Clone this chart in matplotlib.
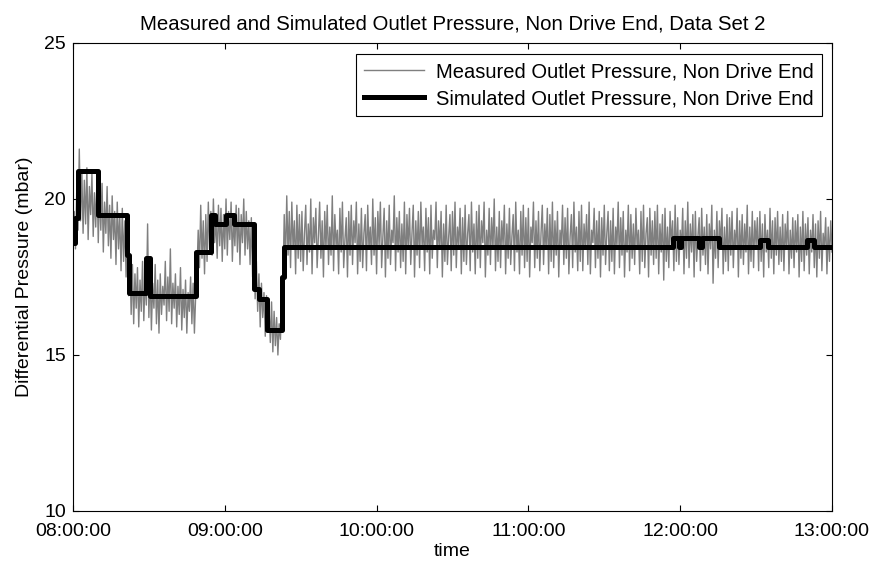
import numpy as np
import matplotlib
matplotlib.use('Agg')
import matplotlib.pyplot as plt

plt.rcParams['font.family'] = ['Liberation Sans', 'DejaVu Sans']

# measured outlet pressure, one reading every 30 s from 08:00 (mbar)
meas_vals = [
    18.1, 19.6, 18.4, 20.3, 19.0, 21.6, 19.3, 20.9, 18.9, 20.6, 19.2, 21.0, 18.7, 20.4, 19.5, 20.8, 18.8, 20.2, 19.1, 20.7,
    18.6, 20.3, 19.0, 20.5, 18.3, 19.9, 18.9, 20.4, 18.5, 19.8, 18.1, 20.1, 18.7, 19.6, 17.9, 19.9, 18.4, 19.5, 17.7, 19.7,
    18.0, 19.3, 17.5, 19.0, 16.9, 18.2, 16.3, 17.9, 16.0, 17.6, 16.5, 17.8, 15.9, 17.4, 16.4, 18.0, 16.1, 17.5, 16.6, 19.2,
    16.2, 17.7, 15.8, 17.3, 16.5, 17.9, 16.0, 17.4, 15.7, 17.6, 16.3, 17.2, 16.6, 18.0, 16.1, 17.5, 16.4, 18.4, 16.0, 17.3,
    16.5, 17.6, 15.9, 17.2, 16.3, 17.8, 15.8, 17.1, 16.2, 17.4, 15.7, 17.0, 16.4, 17.5, 16.0, 17.3, 15.7, 16.9, 17.6, 19.0,
    17.8, 19.8, 18.1, 19.3, 17.6, 19.5, 18.0, 19.9, 18.4, 19.6, 18.2, 20.0, 18.6, 19.4, 18.1, 19.8, 18.5, 19.7, 18.0, 19.5,
    18.4, 20.0, 18.2, 19.6, 18.7, 19.9, 18.0, 19.4, 18.5, 19.8, 18.3, 19.7, 17.9, 19.5, 18.6, 20.0, 18.2, 19.6, 18.4, 19.3,
    17.9, 19.4, 17.5, 18.8, 16.8, 18.0, 16.4, 17.6, 15.9, 17.3, 16.2, 17.0, 15.6, 16.9, 15.8, 16.5, 15.4, 16.7, 15.1, 16.4,
    15.3, 16.2, 15.0, 16.0, 15.5, 16.6, 17.2, 19.5, 17.9, 20.1, 18.2, 19.6, 17.8, 19.9, 18.4, 19.3, 17.6, 19.8, 18.1, 19.5,
    18.0, 19.6, 17.7, 18.9, 19.8, 17.9, 19.2, 18.3, 20.0, 17.6, 19.4, 18.6, 19.7, 17.8, 18.8, 19.9, 18.1, 19.3, 17.5, 19.6,
    18.4, 19.8, 17.9, 19.1, 18.2, 20.1, 17.7, 19.5, 18.5, 19.0, 17.6, 19.7, 18.3, 19.9, 17.8, 18.7, 19.4, 17.5, 19.6, 18.2,
    19.8, 17.9, 19.3, 18.6, 19.9, 17.6, 19.2, 18.0, 19.7, 17.8, 18.9, 19.5, 17.7, 19.8, 18.4, 19.1, 17.9, 20.0, 18.2, 19.4,
    17.6, 19.6, 18.5, 19.9, 17.8, 18.8, 19.7, 17.5, 19.3, 18.1, 19.8, 17.9, 19.0, 18.6, 20.1, 17.7, 19.4, 18.3, 19.6, 17.8,
    19.2, 18.0, 19.9, 17.6, 19.5, 18.4, 19.7, 17.9, 18.9, 19.8, 17.5, 19.3, 18.2, 19.6, 17.8, 19.9, 18.5, 19.1, 17.7, 19.7,
    18.3, 19.4, 17.6, 19.8, 18.1, 19.0, 18.7, 19.9, 17.8, 19.3, 18.4, 19.6, 17.5, 19.2, 18.0, 19.8, 17.9, 18.8, 19.5, 17.7,
    19.6, 18.2, 19.9, 17.8, 19.1, 18.5, 19.7, 17.6, 19.4, 18.0, 19.8, 17.9, 18.9, 19.5, 17.7, 19.9, 18.3, 19.2, 17.6, 19.6,
    18.1, 19.8, 17.8, 19.3, 18.6, 19.9, 17.5, 19.0, 18.2, 19.7, 17.9, 19.4, 18.4, 20.0, 17.7, 19.1, 18.0, 19.6, 17.8, 19.3,
    18.5, 19.8, 17.6, 19.2, 18.1, 19.7, 17.9, 18.8, 19.5, 17.7, 19.9, 18.3, 19.0, 17.6, 19.6, 18.2, 19.8, 17.8, 19.4, 18.0,
    19.7, 17.5, 19.1, 18.6, 19.9, 17.8, 19.3, 18.1, 19.6, 17.7, 18.9, 19.8, 17.9, 19.2, 18.4, 19.7, 17.6, 19.5, 18.0, 19.9,
    17.8, 19.3, 18.2, 19.6, 17.5, 19.0, 18.5, 19.8, 17.9, 19.4, 18.1, 19.7, 17.6, 18.8, 19.5, 17.8, 19.9, 18.3, 19.1, 17.7,
    19.6, 18.0, 19.8, 17.7, 19.2, 18.4, 19.5, 17.9, 19.9, 17.6, 19.0, 18.6, 19.7, 17.8, 19.3, 18.1, 19.6, 17.5, 19.4, 18.2,
    19.8, 17.9, 18.9, 19.6, 17.7, 19.3, 18.0, 19.7, 17.6, 19.1, 18.5, 19.9, 17.8, 19.4, 18.2, 19.6, 17.5, 19.0, 18.3, 19.8,
    17.7, 19.5, 18.1, 19.2, 17.9, 19.7, 18.4, 19.0, 17.6, 19.6, 18.0, 19.8, 17.8, 18.9, 19.4, 17.5, 19.7, 18.2, 19.3, 17.9,
    19.6, 18.1, 19.8, 17.6, 19.2, 18.3, 19.5, 17.4, 19.7, 18.0, 19.1, 17.8, 19.6, 18.5, 19.3, 17.7, 19.8, 18.0, 19.4, 17.9,
    19.0, 18.4, 19.7, 17.6, 19.3, 18.1, 19.9, 17.8, 19.2, 18.3, 19.5, 17.5, 19.6, 18.0, 18.8, 19.4, 17.7, 19.7, 18.2, 19.1,
    17.9, 19.5, 17.6, 19.2, 18.4, 19.8, 17.3, 19.0, 18.1, 19.6, 17.8, 19.3, 18.5, 19.7, 17.6, 19.1, 18.0, 19.5, 17.7, 19.4,
    18.2, 19.6, 17.8, 19.0, 18.4, 19.7, 17.5, 19.3, 18.1, 19.5, 17.9, 19.2, 18.3, 19.8, 17.6, 19.1, 18.0, 19.6, 17.8, 19.3,
    18.5, 19.4, 17.7, 19.6, 18.0, 19.2, 17.5, 19.5, 18.3, 19.0, 17.8, 19.7, 18.1, 19.3, 17.6, 19.4, 18.2, 19.6, 17.9, 19.1,
    18.0, 19.5, 17.7, 19.2, 18.4, 19.6, 17.6, 19.0, 18.1, 19.4, 17.8, 19.3, 18.3, 19.5, 17.5, 19.1, 18.0, 19.6, 17.7, 19.2,
    18.2, 19.4, 17.6, 19.0, 18.3, 19.5, 17.8, 19.2, 17.5, 19.3, 18.1, 19.6, 17.7, 18.9, 18.4, 19.4, 17.6, 19.1, 18.0, 19.3,
    18.3,
]
meas_t = np.arange(len(meas_vals)) * 0.5  # minutes after 08:00

# simulated outlet pressure: step changes (minute after 08:00, level in mbar)
sim_t = [0, 0.8, 1.8, 10, 21.5, 22.3, 29, 30.3, 48.6, 54.5, 56.3, 60.3,
         63.5, 71.5, 73.5, 76.5, 82.5, 83.3, 237, 239.7, 240.5, 247.5,
         248.8, 255.5, 271.5, 274.8, 290.2, 292.8, 300]
sim_vals = [18.6, 19.4, 20.9, 19.5, 18.2, 17.0, 18.1, 16.9, 18.3, 19.5, 19.2, 19.5,
            19.2, 17.1, 16.8, 15.8, 17.5, 18.45, 18.75, 18.45, 18.75, 18.45,
            18.75, 18.45, 18.7, 18.45, 18.7, 18.45, 18.45]

tick_minutes = [0, 60, 120, 180, 240, 300]
tick_labels = ['08:00:00', '09:00:00', '10:00:00', '11:00:00', '12:00:00', '13:00:00']

fig = plt.figure(figsize=(8.78, 5.67), dpi=100)
ax = fig.add_axes([0.0831, 0.0988, 0.8645, 0.8254])

ax.plot(meas_t, meas_vals, color='#7f7f7f', lw=1.0,
        label='Measured Outlet Pressure, Non Drive End')
ax.plot(sim_t, sim_vals, color='black', lw=3.6, drawstyle='steps-post',
        solid_joinstyle='round', label='Simulated Outlet Pressure, Non Drive End')

ax.set_xlim(0, 300)
ax.set_ylim(10, 25)
ax.set_xticks(tick_minutes)
ax.set_xticklabels(tick_labels)
ax.set_yticks([10, 15, 20, 25])
ax.tick_params(direction='in', top=True, right=True, labelsize=14, length=4)
ax.tick_params(axis='x', pad=9)
ax.tick_params(axis='y', pad=5)
for s in ax.spines.values():
    s.set_linewidth(0.8)

ax.set_xlabel('time', fontsize=14, labelpad=2)
ax.set_ylabel('Differential Pressure (mbar)', fontsize=14, labelpad=8)
ax.set_title('Measured and Simulated Outlet Pressure, Non Drive End, Data Set 2',
             fontsize=14.7, pad=10)

leg = ax.legend(loc='upper right', bbox_to_anchor=(0.987, 0.976), borderaxespad=0,
                fancybox=False, edgecolor='black', framealpha=1, fontsize=14.5,
                handlelength=3.0, handletextpad=0.6, borderpad=0.4, labelspacing=0.4)
leg.get_frame().set_linewidth(0.8)

fig.savefig('out.png', dpi=100)
